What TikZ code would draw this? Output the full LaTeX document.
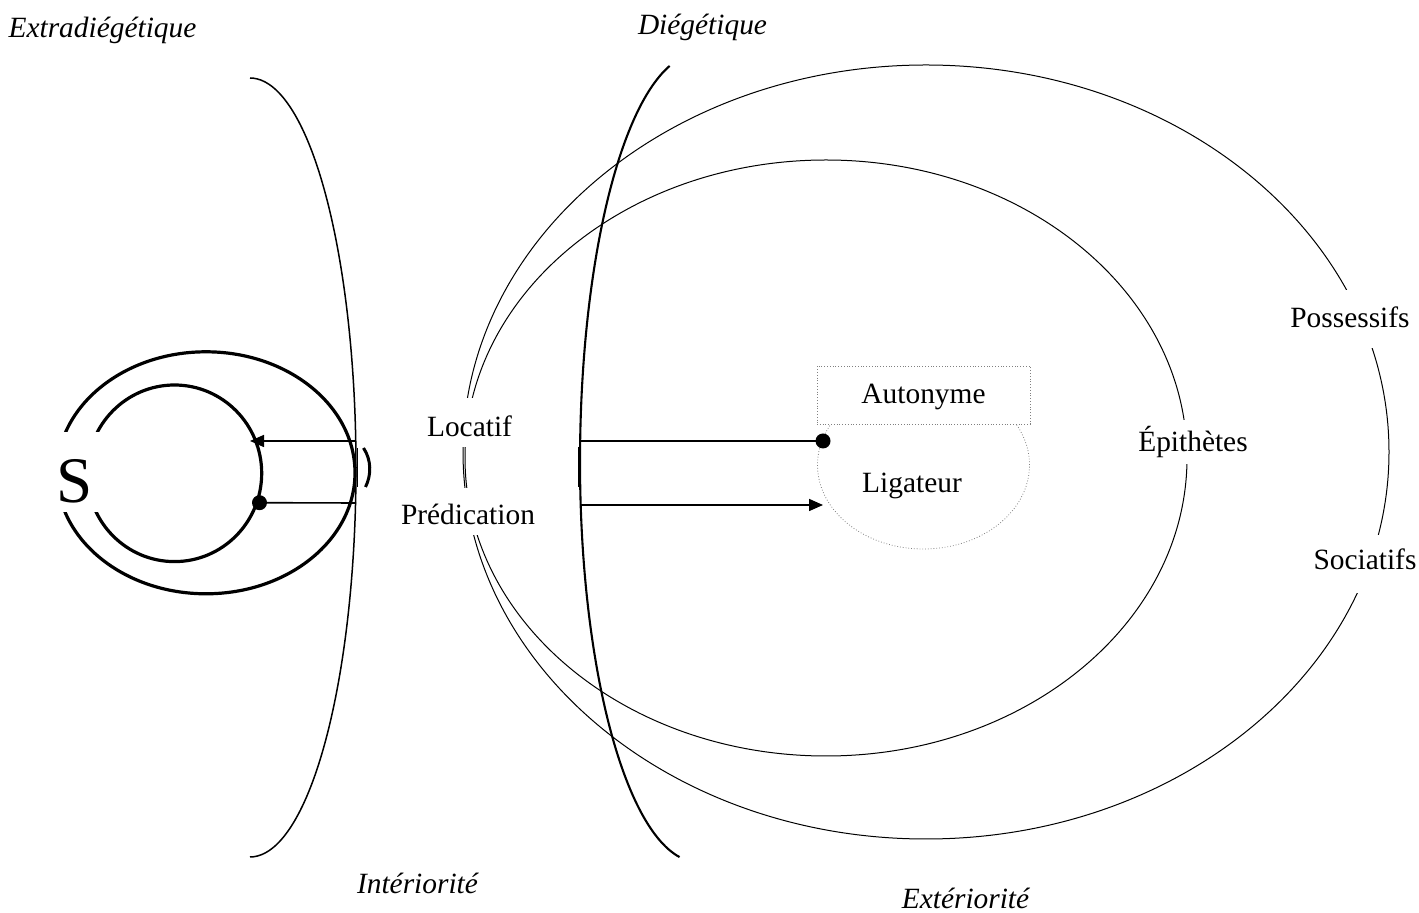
\documentclass[tikz,border=0pt]{standalone}
\usepackage{fontspec}
\setmainfont{Liberation Serif}
\usetikzlibrary{arrows.meta,shapes.geometric}
\begin{document}
\begin{tikzpicture}[x=0.5pt,y=-0.5pt,
  lbl/.style={font=\fontsize{14.7pt}{17pt}\selectfont, inner sep=0pt, anchor=base},
  itl/.style={lbl, font=\fontsize{14.7pt}{17pt}\selectfont\itshape},
  gapbox/.style={lbl, fill=white},
  thinline/.style={line width=0.5pt},
  arcline/.style={line width=0.75pt},
  diegline/.style={line width=1.05pt},
  sline/.style={line width=1.6pt},
  conn/.style={line width=0.8pt},
  tip/.style={-{Triangle[length=7pt,width=6pt]}},
  dot/.style={circle, fill=black, inner sep=0pt, minimum size=7.5pt},
  dotbox/.style={draw=gray, densely dotted, line width=0.4pt}
]
\useasboundingbox (0,0) rectangle (1419,913);

% big thin ellipses
\draw[thinline] (926,452) ellipse [x radius=463, y radius=387];
\draw[thinline] (826,458) ellipse [x radius=361, y radius=298];

% left boundary arc (extradiegetic)
\draw[arcline] plot[domain=-90:90, samples=90, smooth] ({250+106*cos(\x)},{467.5+389.5*sin(\x)});
% diegetic arc
\draw[diegline] plot[domain=256.1:180, samples=60, smooth] ({698+118*cos(\x)},{462+408*sin(\x)})
  -- plot[domain=180:99, samples=60, smooth] ({698+118*cos(\x)},{462+400*sin(\x)});

% fragments between the connectors
\draw[line width=0.6pt] (357.5,448) -- (357.5,487);
\draw[line width=1.5pt] (363.5,448) .. controls (371.5,460) and (371.5,475) .. (365.5,487);
\draw[line width=0.8pt] (578.3,447) -- (578.3,487);

% S ellipses
\draw[sline] (206,472.8) ellipse [x radius=149, y radius=121];
\draw[sline] (174.5,473.3) ellipse [x radius=87.2, y radius=88.3];
\fill[white] (46,432) rectangle (101,512);
\node[font=\fontsize{32.5pt}{36pt}\selectfont, inner sep=0pt, anchor=base] (S) at (74.5,503) {S};

% Ligateur / Autonyme
\node[dotbox, ellipse, minimum width=106pt, minimum height=84pt, inner sep=0pt] (lig) at (923.5,465) {};
\node[dotbox, fill=white, rectangle, minimum width=106.5pt, minimum height=29pt, inner sep=0pt] (autobox) at (923.5,395) {};
\node[lbl] (auto) at (923.5,404) {Autonyme};
\node[lbl] (ligt) at (912,493) {Ligateur};

% connectors
\coordinate (lA) at (356,441);
\coordinate (lB) at (356,503);
\coordinate (rA) at (580,441);
\coordinate (rB) at (580,505);
\coordinate (tipS) at (250,441);
\coordinate (tipL) at (823,505);
\node[dot] (dS) at (259.5,502.7) {};
\node[dot] (dL) at (823,441) {};
\draw[conn, tip] (lA) -- (tipS);
\draw[conn] (lB) -- (dS.center);
\draw[conn] (rA) -- (dL.center);
\draw[conn, tip] (rB) -- (tipL);

% labels with gaps
\node[gapbox, text height=19.5pt, text depth=5pt] (loc) at (469.5,437) {Locatif};
\node[gapbox, text height=18.5pt, text depth=5pt] (pred) at (468,525) {Prédication};
\node[gapbox, text height=19pt, text depth=10pt] (poss) at (1350,328) {Possessifs};
\node[gapbox, text height=17.5pt, text depth=11.5pt] (soc) at (1365,570) {Sociatifs};
\node[gapbox, text height=16pt, text depth=6pt] (epi) at (1193,452) {Épithètes};

% italic labels
\node[itl] (extra) at (102.5,38) {Extradiégétique};
\node[itl] (dieg) at (702.5,35) {Diégétique};
\node[itl] (inter) at (417.5,893) {Intériorité};
\node[itl] (exter) at (965.5,908) {Extériorité};
\end{tikzpicture}
\end{document}
